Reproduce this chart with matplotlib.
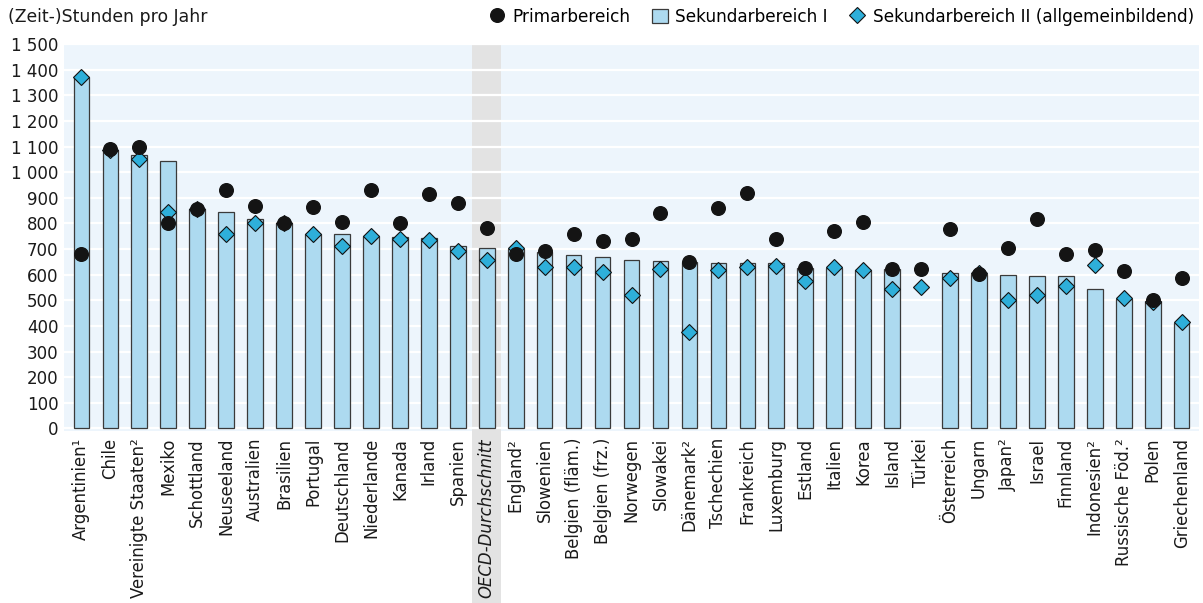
import matplotlib.pyplot as plt
import numpy as np
from matplotlib.lines import Line2D
from matplotlib.patches import Patch, Rectangle
import matplotlib.transforms as mtransforms

# Data
countries = ["Argentinien¹", "Chile", "Vereinigte Staaten²", "Mexiko", "Schottland",
             "Neuseeland", "Australien", "Brasilien", "Portugal", "Deutschland",
             "Niederlande", "Kanada", "Irland", "Spanien", "OECD-Durchschnitt",
             "England²", "Slowenien", "Belgien (fläm.)", "Belgien (frz.)", "Norwegen",
             "Slowakei", "Dänemark²", "Tschechien", "Frankreich", "Luxemburg",
             "Estland", "Italien", "Korea", "Island", "Türkei",
             "Österreich", "Ungarn", "Japan²", "Israel", "Finnland",
             "Indonesien²", "Russische Föd.²", "Polen", "Griechenland"]

sek1 = [1370, 1085, 1067, 1045, 855, 845, 817, 800, 760, 757,
        750, 747, 742, 712, 703, 701, 688, 675, 670, 656,
        652, 649, 647, 647, 645, 627, 627, 617, 622, np.nan,
        606, 604, 600, 596, 593, 544, 506, 497, 413]

primar = [680, 1090, 1100, 800, 855, 930, 869, 800, 864, 804,
          929, 800, 916, 879, 781, 682, 691, 760, 731, 739,
          840, 649, 862, 917, 739, 627, 769, 806, 622, 621,
          778, 603, 706, 818, 679, 696, 614, 503, 588]

sek2 = [1370, 1088, 1050, 843, 855, 760, 801, 800, 760, 712,
        749, 740, 735, 692, 657, 705, 631, 630, 609, 522,
        623, 377, 618, 631, 634, 575, 629, 617, 543, 552,
        588, 606, 500, 522, 555, 636, 508, 493, 416]

x = np.arange(len(countries))
oecd_idx = countries.index("OECD-Durchschnitt")

bar_color = "#ADDAF0"
dia_color = "#2EAFDA"

fig = plt.figure(figsize=(12.03, 6.03), dpi=100)
ax = fig.add_axes([0.0532, 0.2852, 0.9435, 0.6418])
ax.set_facecolor("#EDF5FC")

# grey band for OECD average, reaching down behind the label
trans = mtransforms.blended_transform_factory(ax.transData, ax.transAxes)
ax.add_patch(Rectangle((oecd_idx - 0.5, -0.6), 1.0, 1.6, transform=trans,
                       facecolor="#E3E3E3", edgecolor="none", clip_on=False, zorder=0.5))

ax.bar(x, sek1, width=0.54, color=bar_color, edgecolor="#3a3a3a", linewidth=0.9, zorder=2)
ax.plot(x, sek2, linestyle="none", marker="D", markersize=8.2, markerfacecolor=dia_color,
        markeredgecolor="#111111", markeredgewidth=0.8, zorder=3)
ax.plot(x, primar, linestyle="none", marker="o", markersize=9.8, markerfacecolor="#141414",
        markeredgecolor="#141414", zorder=4)

ax.set_xlim(-0.6, len(countries) - 0.4)
ax.set_ylim(-10, 1500)
ax.set_yticks(np.arange(0, 1501, 100))
ax.set_yticklabels([f"{v:,}".replace(",", " ") for v in range(0, 1501, 100)])
ax.yaxis.grid(True, color="white", linewidth=1.6, zorder=1)
ax.set_axisbelow(True)
ax.set_xticks(x)
ax.set_xticklabels(countries, rotation=90, va="top", ha="center")
for lbl in ax.get_xticklabels():
    if lbl.get_text() == "OECD-Durchschnitt":
        lbl.set_fontstyle("italic")
ax.tick_params(axis="both", length=0, colors="#1a1a1a")
ax.tick_params(axis="x", pad=5, labelsize=11.9)
ax.tick_params(axis="y", pad=4, labelsize=12)
for s in ax.spines.values():
    s.set_visible(False)

fig.text(0.007, 0.972, "(Zeit-)Stunden pro Jahr", fontsize=12.4, va="center", ha="left", color="#1a1a1a")

handles = [
    Line2D([], [], linestyle="none", marker="o", markersize=9.8, markerfacecolor="#141414",
           markeredgecolor="#141414"),
    Patch(facecolor=bar_color, edgecolor="#3a3a3a", linewidth=0.9),
    Line2D([], [], linestyle="none", marker="D", markersize=8.2, markerfacecolor=dia_color,
           markeredgecolor="#111111", markeredgewidth=0.8),
]
labels = ["Primarbereich", "Sekundarbereich I", "Sekundarbereich II (allgemeinbildend)"]
fig.legend(handles, labels, loc="center right", bbox_to_anchor=(1.0, 0.972), ncol=3,
           frameon=False, fontsize=12.2, handlelength=0.9, handletextpad=0.45,
           columnspacing=1.3, handleheight=0.9, borderaxespad=0.15)

fig.savefig("out.png", dpi=100)
